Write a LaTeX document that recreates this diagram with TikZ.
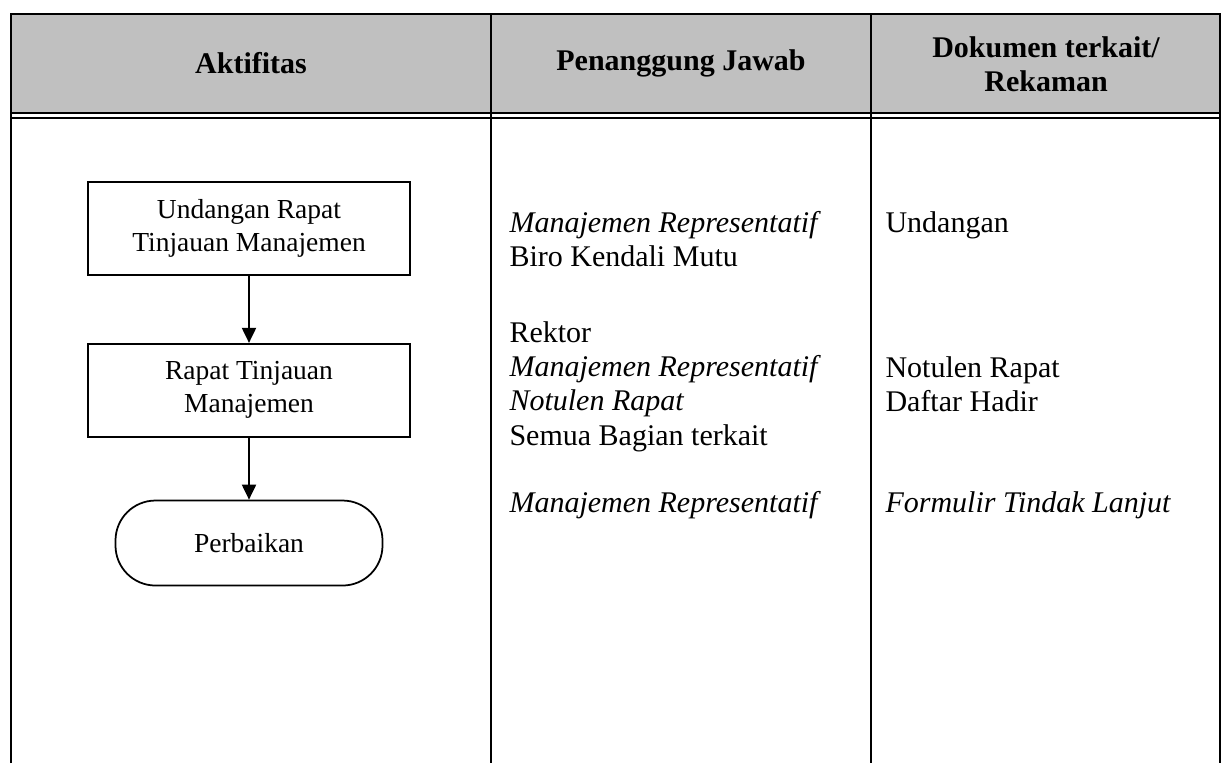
\documentclass[tikz,border=0pt]{standalone}
\usepackage{fontspec}
\setmainfont{Liberation Serif}
\usetikzlibrary{positioning, arrows.meta}
\definecolor{abu}{HTML}{C0C0C0}

\begin{document}
\begin{tikzpicture}[x=0.4pt, y=-0.4pt, node distance=10pt,
    kotak/.style={draw, line width=0.7pt, minimum width=128.8pt, minimum height=37.2pt, align=center, inner sep=0pt, font=\fontsize{11}{13.2}\selectfont},
    isi/.style={anchor=north west, align=left, inner sep=0pt, font=\fontsize{12}{13.7}\selectfont},
    judul/.style={align=center, inner sep=0pt, font=\fontsize{12}{13.7}\selectfont\bfseries},
    panah/.style={-{Triangle[width=5.6pt,length=6pt]}, line width=0.8pt}]
    \useasboundingbox (0,0) rectangle (1223,763);
    % tabel
    \fill[abu] (11,14) rectangle (1220,113);
    \draw[line width=0.8pt] (11,763)--(11,14)--(1220,14)--(1220,763);
    \draw[line width=0.8pt] (11,113)--(1220,113);
    \draw[line width=0.5pt] (11,118)--(1220,118);
    \foreach \x in {491,871} \draw[line width=0.8pt] (\x,14)--(\x,763);
    \node[judul] (h1) at (251,63) {Aktifitas};
    \node[judul] (h2) at (681,63) {Penanggung Jawab};
    \node[judul] (h3) at (1046,64) {Dokumen terkait/\\Rekaman};
    % alur
    \node[kotak] (undangan) at (249,228.5) {Undangan Rapat\\Tinjauan Manajemen};
    \node[kotak, below=26.8pt of undangan] (rapat) {Rapat Tinjauan\\Manajemen};
    \node[kotak, rounded corners=16pt, minimum width=106.8pt, minimum height=34pt, below=24.8pt of rapat] (perbaikan) {Perbaikan};
    \draw[panah] (undangan)--(rapat);
    \draw[panah] (rapat)--(perbaikan);
    % penanggung jawab
    \node[isi] (pj1) at (509,208) {\strut\textit{Manajemen Representatif}\\Biro Kendali Mutu};
    \node[isi] (pj2) at (509,318) {\strut Rektor\\\textit{Manajemen Representatif}\\\textit{Notulen Rapat}\\Semua Bagian terkait};
    \node[isi] (pj3) at (509,488) {\strut\textit{Manajemen Representatif}};
    % dokumen
    \node[isi] (dk1) at (885,208) {\strut Undangan};
    \node[isi] (dk2) at (885,353) {\strut Notulen Rapat\\Daftar Hadir};
    \node[isi] (dk3) at (885,488) {\strut\textit{Formulir Tindak Lanjut}};
\end{tikzpicture}
\end{document}
